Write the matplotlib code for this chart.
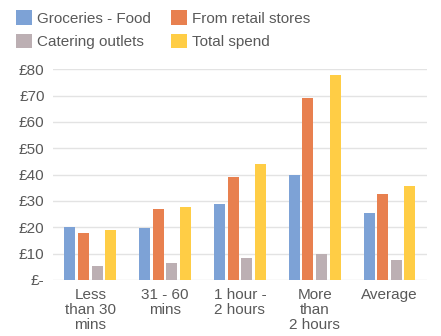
import numpy as np
import matplotlib.pyplot as plt

plt.rcParams['font.family'] = ['Liberation Sans', 'DejaVu Sans']

categories = ['Less\nthan 30\nmins', '31 - 60\nmins', '1 hour -\n2 hours', 'More\nthan\n2 hours', 'Average']
series = ['Groceries - Food', 'From retail stores', 'Catering outlets', 'Total spend']
groceries = [20.2, 19.6, 28.9, 39.9, 25.3]
retail = [17.9, 27.0, 38.9, 69.0, 32.8]
catering = [5.1, 6.6, 8.2, 10.0, 7.6]
total = [19.1, 27.8, 43.9, 77.7, 35.6]
yticks = [0, 10, 20, 30, 40, 50, 60, 70, 80]
yticklabels = ['£-', '£10', '£20', '£30', '£40', '£50', '£60', '£70', '£80']

colors = ['#7DA2D6', '#E8804F', '#BCAFB3', '#FFCD45']
text_color = '#595959'

fig = plt.figure(figsize=(4.41, 3.36), dpi=100)
ax = fig.add_axes([0.120, 0.167, 0.848, 0.627])

x = np.arange(len(categories))
step = 0.182
width = 0.148
handles = []
for i, (vals, c) in enumerate(zip([groceries, retail, catering, total], colors)):
    b = ax.bar(x + (i - 1.5) * step, vals, width, color=c, zorder=3)
    handles.append(b)

ax.set_xlim(-0.5, len(categories) - 0.5)
ax.set_ylim(0, 80)
ax.set_yticks(yticks)
ax.set_yticklabels(yticklabels)
ax.set_xticks(x)
ax.set_xticklabels(categories, linespacing=1.1)
ax.tick_params(length=0, colors=text_color, labelsize=11)
ax.tick_params(axis='y', pad=6)
ax.tick_params(axis='x', pad=6)
ax.grid(axis='y', color='#E3E3E3', linewidth=1, zorder=0)
for s in ax.spines.values():
    s.set_visible(False)

# legend is filled column by column, so reorder to get rows
order = [0, 2, 1, 3]
fig.legend([handles[i] for i in order], [series[i] for i in order],
           loc='upper left', bbox_to_anchor=(0.004, 1.01), ncol=2,
           frameon=False, fontsize=11, labelcolor=text_color,
           handlelength=1.05, handleheight=1.05, handletextpad=0.35,
           columnspacing=1.3, labelspacing=0.55)

fig.savefig('out.png', dpi=100)
